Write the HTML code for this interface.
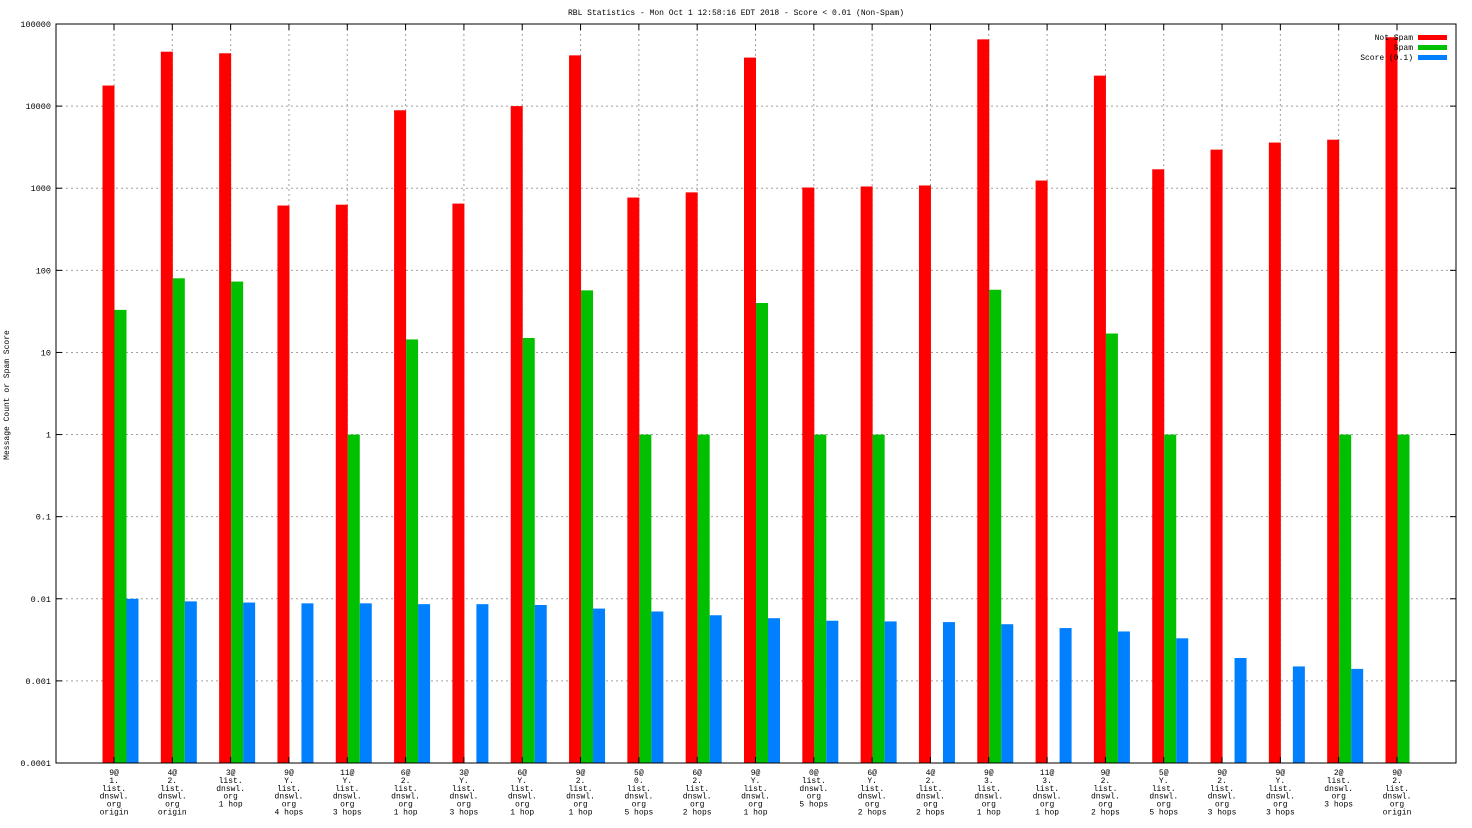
<!DOCTYPE html>
<html><head><meta charset="utf-8"><style>
html,body{margin:0;padding:0;background:#fff;}
svg{display:block;font-family:"Liberation Mono",monospace;font-size:8.5px;}
</style></head><body>
<svg id="chart" width="1472" height="828" xmlns="http://www.w3.org/2000/svg">
<rect x="0" y="0" width="1472" height="828" fill="#fff"/>
<text x="736" y="15" text-anchor="middle" font-size="8px">RBL Statistics - Mon Oct  1 12:58:16 EDT 2018 - Score &lt; 0.01 (Non-Spam)</text>
<text transform="translate(9,395) rotate(-90)" text-anchor="middle" font-size="8px">Message Count or Spam Score</text>
<g id="grid"></g><g id="bars"></g><g id="axes"></g><g id="labels" font-size="8px"></g>
<g font-size="8px">
<text x="1413" y="40" text-anchor="end">Not Spam</text><rect x="1418" y="35" width="29" height="5" fill="#ff0000"/>
<text x="1413" y="50" text-anchor="end">Spam</text><rect x="1418" y="45" width="29" height="5" fill="#00c000"/>
<text x="1413" y="60" text-anchor="end">Score (0.1)</text><rect x="1418" y="55" width="29" height="5" fill="#0080ff"/>
</g>
</svg>
<script>
const categories=[
["9@","1.","list.","dnswl.","org","origin"],["4@","2.","list.","dnswl.","org","origin"],["3@","list.","dnswl.","org","1 hop"],
["9@","Y.","list.","dnswl.","org","4 hops"],["11@","Y.","list.","dnswl.","org","3 hops"],["6@","2.","list.","dnswl.","org","1 hop"],
["3@","Y.","list.","dnswl.","org","3 hops"],["6@","Y.","list.","dnswl.","org","1 hop"],["9@","2.","list.","dnswl.","org","1 hop"],
["5@","0.","list.","dnswl.","org","5 hops"],["6@","2.","list.","dnswl.","org","2 hops"],["9@","Y.","list.","dnswl.","org","1 hop"],
["0@","list.","dnswl.","org","5 hops"],["6@","Y.","list.","dnswl.","org","2 hops"],["4@","2.","list.","dnswl.","org","2 hops"],
["9@","3.","list.","dnswl.","org","1 hop"],["11@","3.","list.","dnswl.","org","1 hop"],["9@","2.","list.","dnswl.","org","2 hops"],
["5@","Y.","list.","dnswl.","org","5 hops"],["9@","2.","list.","dnswl.","org","3 hops"],["9@","Y.","list.","dnswl.","org","3 hops"],
["2@","list.","dnswl.","org","3 hops"],["9@","2.","list.","dnswl.","org","origin"]];
const notSpam=[17800,46000,44000,615,630,8900,650,10000,41500,770,890,39000,1020,1050,1080,65000,1240,23500,1700,2950,3600,3900,69000];
const spam=[33,80,73,null,1,14.4,null,15,57,1,1,40,1,1,null,58,null,17,1,null,null,1,1];
const score=[0.01,0.0093,0.009,0.0088,0.0088,0.0086,0.0086,0.0084,0.0076,0.007,0.0063,0.0058,0.0054,0.0053,0.0052,0.0049,0.0044,0.004,0.0033,0.0019,0.0015,0.0014,null];
const yTicks=[0.0001,0.001,0.01,0.1,1,10,100,1000,10000,100000];
const yTickLabels=["0.0001","0.001","0.01","0.1","1","10","100","1000","10000","100000"];

const NS="http://www.w3.org/2000/svg";
const L=56,R=1456,T=24,B=763;
const yScale=v=>B-(Math.log10(v)+4)/9*(B-T);
const x0=114,step=(1397-114)/22;
const xScale=i=>x0+i*step;
function mk(tag,attrs,parent){const e=document.createElementNS(NS,tag);for(const k in attrs)e.setAttribute(k,attrs[k]);parent.appendChild(e);return e;}
const grid=document.getElementById('grid'),bars=document.getElementById('bars'),axes=document.getElementById('axes'),labels=document.getElementById('labels');
yTicks.forEach((t,i)=>{const y=yScale(t);
 if(i>0&&i<yTicks.length-1){const g=mk('line',{x1:L,x2:R,y1:y,y2:y,stroke:'#a0a0a0','stroke-dasharray':'2,3','stroke-width':1},grid);
 
 }
 const tl=mk('text',{x:L-5,y:y+3,'text-anchor':'end'},axes);tl.textContent=yTickLabels[i];
 
 
 mk('line',{x1:L,x2:L+6,y1:y,y2:y,stroke:'#000'},axes);mk('line',{x1:R,x2:R-6,y1:y,y2:y,stroke:'#000'},axes);
});
const colors=['#ff0000','#00c000','#0080ff'],series=[notSpam,spam,score],names=['not-spam-bar','spam-bar','score-bar'];
categories.forEach((c,i)=>{const cx=xScale(i);
 const gl=mk('line',{x1:cx,x2:cx,y1:T,y2:B,stroke:'#a0a0a0','stroke-dasharray':'2,3'},grid);
 
 
 mk('line',{x1:cx,x2:cx,y1:B,y2:B-6,stroke:'#000'},axes);mk('line',{x1:cx,x2:cx,y1:T,y2:T+6,stroke:'#000'},axes);
 series.forEach((s,k)=>{const v=s[i];if(v==null)return;const y=yScale(v);
  const r=mk('rect',{x:cx-11.5+k*12,y:y,width:12,height:B-y,fill:colors[k]},bars);
  
  });
 const t=mk('text',{x:cx,'text-anchor':'middle'},labels);
 
 
 c.forEach((ln,j)=>{const s=mk('tspan',{x:cx,y:775+j*7.9},t);s.textContent=ln;});
});
const f=mk('rect',{x:L,y:T,width:R-L,height:B-T,fill:'none',stroke:'#000'},axes);


</script>
</body></html>
